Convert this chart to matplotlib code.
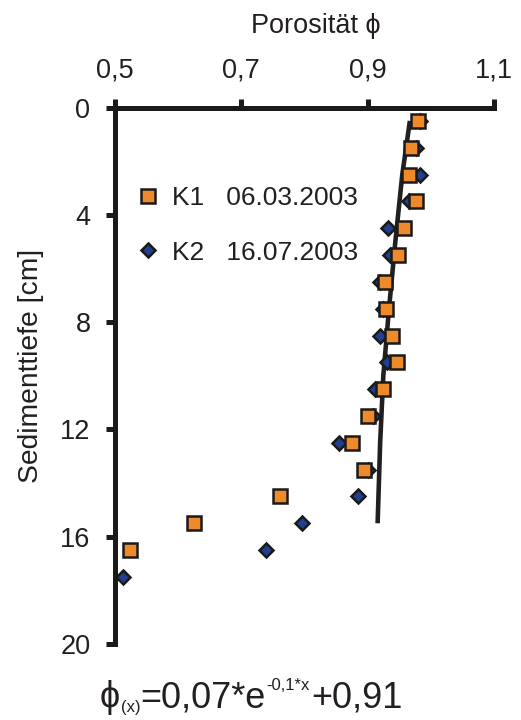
import matplotlib
matplotlib.use("Agg")
import matplotlib.pyplot as plt

plt.rcParams['font.family'] = ['Liberation Sans', 'DejaVu Sans']

# ---- data ----
depth_k1 = [0.5, 1.5, 2.5, 3.5, 4.5, 5.5, 6.5, 7.5, 8.5, 9.5, 10.5, 11.5, 12.5, 13.5, 14.5, 15.5, 16.5]
phi_k1 = [0.980, 0.969, 0.966, 0.977, 0.958, 0.949, 0.928, 0.930, 0.938, 0.946,
          0.924, 0.900, 0.875, 0.894, 0.762, 0.626, 0.525]
depth_k2 = [0.5, 1.5, 2.5, 3.5, 4.5, 5.5, 6.5, 7.5, 8.5, 9.5, 10.5, 11.5, 12.5, 13.5, 14.5, 15.5, 16.5, 17.5]
phi_k2 = [0.983, 0.976, 0.983, 0.966, 0.933, 0.936, 0.920, 0.925, 0.919, 0.931,
          0.912, 0.908, 0.855, 0.901, 0.885, 0.797, 0.740, 0.513]
fit_depth = [0.5, 2.5, 5.0, 7.5, 10.0, 12.5, 15.5]
fit_phi = [0.967, 0.955, 0.944, 0.934, 0.925, 0.920, 0.916]

xticks = [0.5, 0.7, 0.9, 1.1]
xticklabels = ["0,5", "0,7", "0,9", "1,1"]
yticks = [0, 4, 8, 12, 16, 20]
yticklabels = ["0", "4", "8", "12", "16", "20"]
label_k1 = "K1   06.03.2003"
label_k2 = "K2   16.07.2003"

ORANGE = "#EF8A2B"
BLUE = "#203F8E"
EDGE = "#1a1a1a"
LINE = "#231F20"
TXT = "#231F20"

W, H = 521, 720
fig = plt.figure(figsize=(W / 100, H / 100), dpi=100)
ax = fig.add_axes([114.5 / W, 1 - 644 / H, (494 - 114.5) / W, (644 - 107.5) / H])

ax.plot(fit_phi, fit_depth, color=LINE, lw=3.3, solid_capstyle='butt', zorder=2)
l2, = ax.plot(phi_k2, depth_k2, linestyle='none', marker='D', ms=7.0, mew=1.8,
              mfc=BLUE, mec=EDGE, zorder=3, clip_on=False)
l1, = ax.plot(phi_k1, depth_k1, linestyle='none', marker='s', ms=10.0, mew=1.8,
              mfc=ORANGE, mec=EDGE, zorder=4, clip_on=False)

ax.set_xlim(0.5, 1.1)
ax.set_ylim(20, 0)
ax.xaxis.tick_top()
ax.set_xticks(xticks)
ax.set_xticklabels(xticklabels)
ax.set_yticks(yticks)
ax.set_yticklabels(yticklabels)
ax.tick_params(axis='both', direction='out', length=6.8, width=3.6, color=EDGE,
               labelsize=19.5, pad=10.5, labelcolor=TXT)

for s in ['right', 'bottom']:
    ax.spines[s].set_visible(False)
for s in ['left', 'top']:
    ax.spines[s].set_linewidth(3.6)
    ax.spines[s].set_color(EDGE)

ax.legend([l1, l2], [label_k1, label_k2], loc='center left',
          bbox_to_anchor=(137.5 / W, 1 - 225.5 / H), bbox_transform=fig.transFigure,
          frameon=False, fontsize=19, handlelength=0.8, handletextpad=0.5,
          labelspacing=1.14, borderpad=0, borderaxespad=0, labelcolor=TXT)

fig.text(316 / W, 1 - 33.3 / H, "Porosität ϕ", ha='center', va='baseline',
         fontsize=19.5, color=TXT)
fig.text(31 / W, 1 - 366 / H, "Sedimenttiefe [cm]", ha='center', va='center',
         rotation=90, fontsize=20.3, color=TXT)

# formula below the chart
big = 26
small = 12
t1 = fig.text(100 / W, 1 - 707 / H, "ϕ", ha='left', va='baseline', fontsize=big, color=TXT)
t2 = ax.annotate("(x)", xy=(1, 0), xycoords=t1, xytext=(0.5, 0), textcoords='offset points',
                 ha='left', va='bottom', fontsize=small, color=TXT)
t3 = ax.annotate("=0,07*e", xy=(1, 0), xycoords=(t2, t1), ha='left', va='bottom',
                 fontsize=big, color=TXT)
t4 = ax.annotate("-0,1*x", xy=(1, 1), xycoords=(t3, t3), xytext=(0.5, 1.5), textcoords='offset points',
                 ha='left', va='top', fontsize=small, color=TXT)
t5 = ax.annotate("+0,91", xy=(1, 0), xycoords=(t4, t3), xytext=(1, 0), textcoords='offset points',
                 ha='left', va='bottom', fontsize=big, color=TXT)

fig.savefig("out.png", dpi=100)
